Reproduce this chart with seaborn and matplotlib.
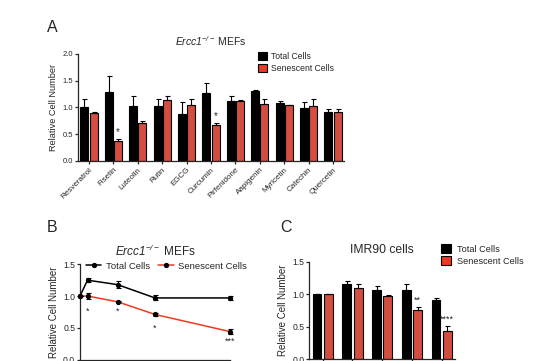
import numpy as np
import pandas as pd
import matplotlib
matplotlib.use("Agg")
import matplotlib.pyplot as plt
from matplotlib.patches import Patch
from matplotlib.lines import Line2D
import seaborn as sns

# Panel A: flavonoid screen in Ercc1-/- MEFs
compounds = ["Resveratrol", "Fisetin", "Luteolin", "Rutin", "EGCG", "Curcumin",
             "Pirfenidone", "Aapigenin", "Myricetin", "Catechin", "Quercetin"]
a_total = [1.01, 1.28, 1.02, 1.02, 0.87, 1.26, 1.11, 1.31, 1.08, 0.98, 0.92]
a_total_err = [0.14, 0.30, 0.19, 0.13, 0.23, 0.20, 0.11, 0.01, 0.04, 0.12, 0.04]
a_sen = [0.90, 0.37, 0.70, 1.13, 1.04, 0.66, 1.11, 1.06, 1.04, 1.03, 0.92]
a_sen_err = [0.01, 0.04, 0.04, 0.08, 0.12, 0.05, 0.02, 0.10, 0.01, 0.13, 0.04]
a_stars = {"Fisetin": "*", "Curcumin": "*"}

# Panel B: fisetin dose response in Ercc1-/- MEFs
b_dose = [0, 1, 5, 10, 20]
b_total = [1.0, 1.25, 1.18, 0.97, 0.97]
b_total_err = [0.0, 0.03, 0.05, 0.04, 0.03]
b_sen = [1.0, 1.0, 0.91, 0.71, 0.44]
b_sen_err = [0.0, 0.04, 0.01, 0.03, 0.04]
b_stars = ["", "*", "*", "*", "***"]
b_star_y = [0, 0.76, 0.76, 0.50, 0.29]

# Panel C: IMR90 cells (x labels fall below the visible area)
c_groups = ["0", "1", "5", "10", "20"]
c_total = [1.0, 1.15, 1.07, 1.06, 0.91]
c_total_err = [0.01, 0.05, 0.05, 0.09, 0.03]
c_sen = [1.0, 1.10, 0.98, 0.76, 0.43]
c_sen_err = [0.01, 0.06, 0.01, 0.05, 0.08]
c_stars = ["", "", "", "**", "****"]

hue_levels = ["Total Cells", "Senescent Cells"]
RED = "#EC3A25"
palette = ["black", RED]

sns.set_style("ticks")
plt.rcParams["font.family"] = ["Liberation Sans", "DejaVu Sans"]
# math text only used for the italic gene name, so make it all italic
plt.rcParams["mathtext.fontset"] = "custom"
plt.rcParams["mathtext.rm"] = "Liberation Sans:italic"
plt.rcParams["mathtext.it"] = "Liberation Sans:italic"
plt.rcParams["axes.linewidth"] = 0.9
plt.rcParams["xtick.major.width"] = 0.9
plt.rcParams["ytick.major.width"] = 0.9
plt.rcParams["xtick.major.size"] = 2.5
plt.rcParams["ytick.major.size"] = 2.5
plt.rcParams["xtick.major.pad"] = 1.5
plt.rcParams["ytick.major.pad"] = 1.0

W, H = 554, 361
fig = plt.figure(figsize=(W / 100, H / 100), dpi=100)
TITLE = r"$Ercc1^{-/-}$ MEFs"


def px_axes(left, right, top, bottom):
    return fig.add_axes([left / W, 1 - bottom / H, (right - left) / W, (bottom - top) / H])


def bar_panel(ax, cats, total, total_err, sen, sen_err, gap):
    df = pd.DataFrame({
        "cat": cats * 2,
        "group": [hue_levels[0]] * len(cats) + [hue_levels[1]] * len(cats),
        "value": total + sen,
    })
    sns.barplot(data=df, x="cat", y="value", hue="group", order=cats, hue_order=hue_levels,
                palette=palette, width=0.76, gap=gap, errorbar=None, edgecolor="black",
                linewidth=0.8, legend=False, ax=ax)
    for container, means, errs in zip(ax.containers, [total, sen], [total_err, sen_err]):
        xs = [b.get_x() + b.get_width() / 2 for b in container]
        ax.errorbar(xs, means, yerr=[np.zeros(len(errs)), errs], fmt="none", ecolor="black",
                    elinewidth=0.8, capsize=1.8, capthick=0.8)
    return [b.get_x() + b.get_width() / 2 for b in ax.containers[1]]


# ---------------- A ----------------
axA = px_axes(78, 344, 54, 160.7)
red_x = bar_panel(axA, compounds, a_total, a_total_err, a_sen, a_sen_err, gap=0.13)
for name, s in a_stars.items():
    i = compounds.index(name)
    axA.text(red_x[i], a_sen[i] + a_sen_err[i] + 0.03, s, ha="center", va="bottom", fontsize=7)
axA.set_xlim(-0.45, 10.45)
axA.set_ylim(0, 2.0)
axA.set_yticks([0, 0.5, 1.0, 1.5, 2.0])
axA.set_yticklabels(["0.0", "0.5", "1.0", "1.5", "2.0"], fontsize=5.5)
axA.set_xticks(range(len(compounds)))
axA.set_xticklabels(compounds, rotation=45, ha="right", rotation_mode="anchor", fontsize=5.8)
axA.set_xlabel("")
axA.set_ylabel("Relative Cell Number", fontsize=6.6, labelpad=3)
axA.set_title(TITLE, fontsize=7.5, pad=6)
axA.legend(handles=[Patch(facecolor=c, edgecolor="black", linewidth=0.8) for c in palette],
           labels=hue_levels, loc="upper left", bbox_to_anchor=(0.675, 1.02), frameon=False,
           fontsize=6.2, handlelength=1.1, handleheight=1.1, handletextpad=0.5,
           labelspacing=0.3, borderpad=0, borderaxespad=0)
sns.despine(ax=axA)

# ---------------- B ----------------
axB = px_axes(80, 230, 264.3, 359.5)
dfB = pd.DataFrame({
    "dose": b_dose * 2,
    "value": b_total + b_sen,
    "group": [hue_levels[0]] * len(b_dose) + [hue_levels[1]] * len(b_dose),
})
sns.lineplot(data=dfB, x="dose", y="value", hue="group", hue_order=hue_levels, palette=palette,
             linewidth=1.1, legend=False, ax=axB)
for means, errs in [(b_total, b_total_err), (b_sen, b_sen_err)]:
    axB.errorbar(b_dose, means, yerr=errs, fmt="o", color="black", markersize=2.8,
                 elinewidth=0.8, capsize=1.8, capthick=0.8, clip_on=False, zorder=4)
for x, s, y in zip(b_dose, b_stars, b_star_y):
    if s:
        axB.text(x, y, s, ha="center", va="center", fontsize=6.5)
axB.set_xlim(0, 20)
axB.set_ylim(0, 1.5)
axB.set_xticks([0, 5, 10, 15, 20])
axB.set_xticklabels([])
axB.set_yticks([0, 0.5, 1.0, 1.5])
axB.set_yticklabels(["0.0", "0.5", "1.0", "1.5"], fontsize=6.2)
axB.set_xlabel("")
axB.set_ylabel("Relative Cell Number", fontsize=7, labelpad=3)
axB.set_title(TITLE, fontsize=8.5, pad=6)
axB.legend(handles=[Line2D([], [], color=c, marker="o", markersize=2.8, markerfacecolor="black",
                           markeredgecolor="black", linewidth=1.1) for c in palette],
           labels=hue_levels, loc="center left", bbox_to_anchor=(0.04, 0.98), ncol=2,
           frameon=False, fontsize=6.8, handlelength=1.6, handletextpad=0.5,
           columnspacing=0.9, borderpad=0, borderaxespad=0)
sns.despine(ax=axB)

# ---------------- C ----------------
axC = px_axes(309.3, 455, 261.7, 359.3)
red_xc = bar_panel(axC, c_groups, c_total, c_total_err, c_sen, c_sen_err, gap=0.21)
for i, s in enumerate(c_stars):
    if s:
        axC.text(red_xc[i], c_sen[i] + c_sen_err[i] + 0.03, s, ha="center", va="bottom",
                 fontsize=6.5)
axC.set_xlim(-0.45, 4.45)
axC.set_ylim(0, 1.5)
axC.set_xticklabels([])
axC.set_yticks([0, 0.5, 1.0, 1.5])
axC.set_yticklabels(["0.0", "0.5", "1.0", "1.5"], fontsize=6.2)
axC.set_xlabel("")
axC.set_ylabel("Relative Cell Number", fontsize=7, labelpad=3)
axC.set_title("IMR90 cells", fontsize=8.7, pad=6)
axC.legend(handles=[Patch(facecolor=c, edgecolor="black", linewidth=0.8) for c in palette],
           labels=hue_levels, loc="upper left", bbox_to_anchor=(0.905, 1.18), frameon=False,
           fontsize=6.6, handlelength=1.1, handleheight=1.1, handletextpad=0.6,
           labelspacing=0.3, borderpad=0, borderaxespad=0)
sns.despine(ax=axC)

# panel letters
for letter, x, y in [("A", 52, 27), ("B", 52, 228), ("C", 286, 228)]:
    fig.text(x / W, 1 - y / H, letter, ha="center", va="center", fontsize=11.5)

fig.savefig("out.png", dpi=100)
